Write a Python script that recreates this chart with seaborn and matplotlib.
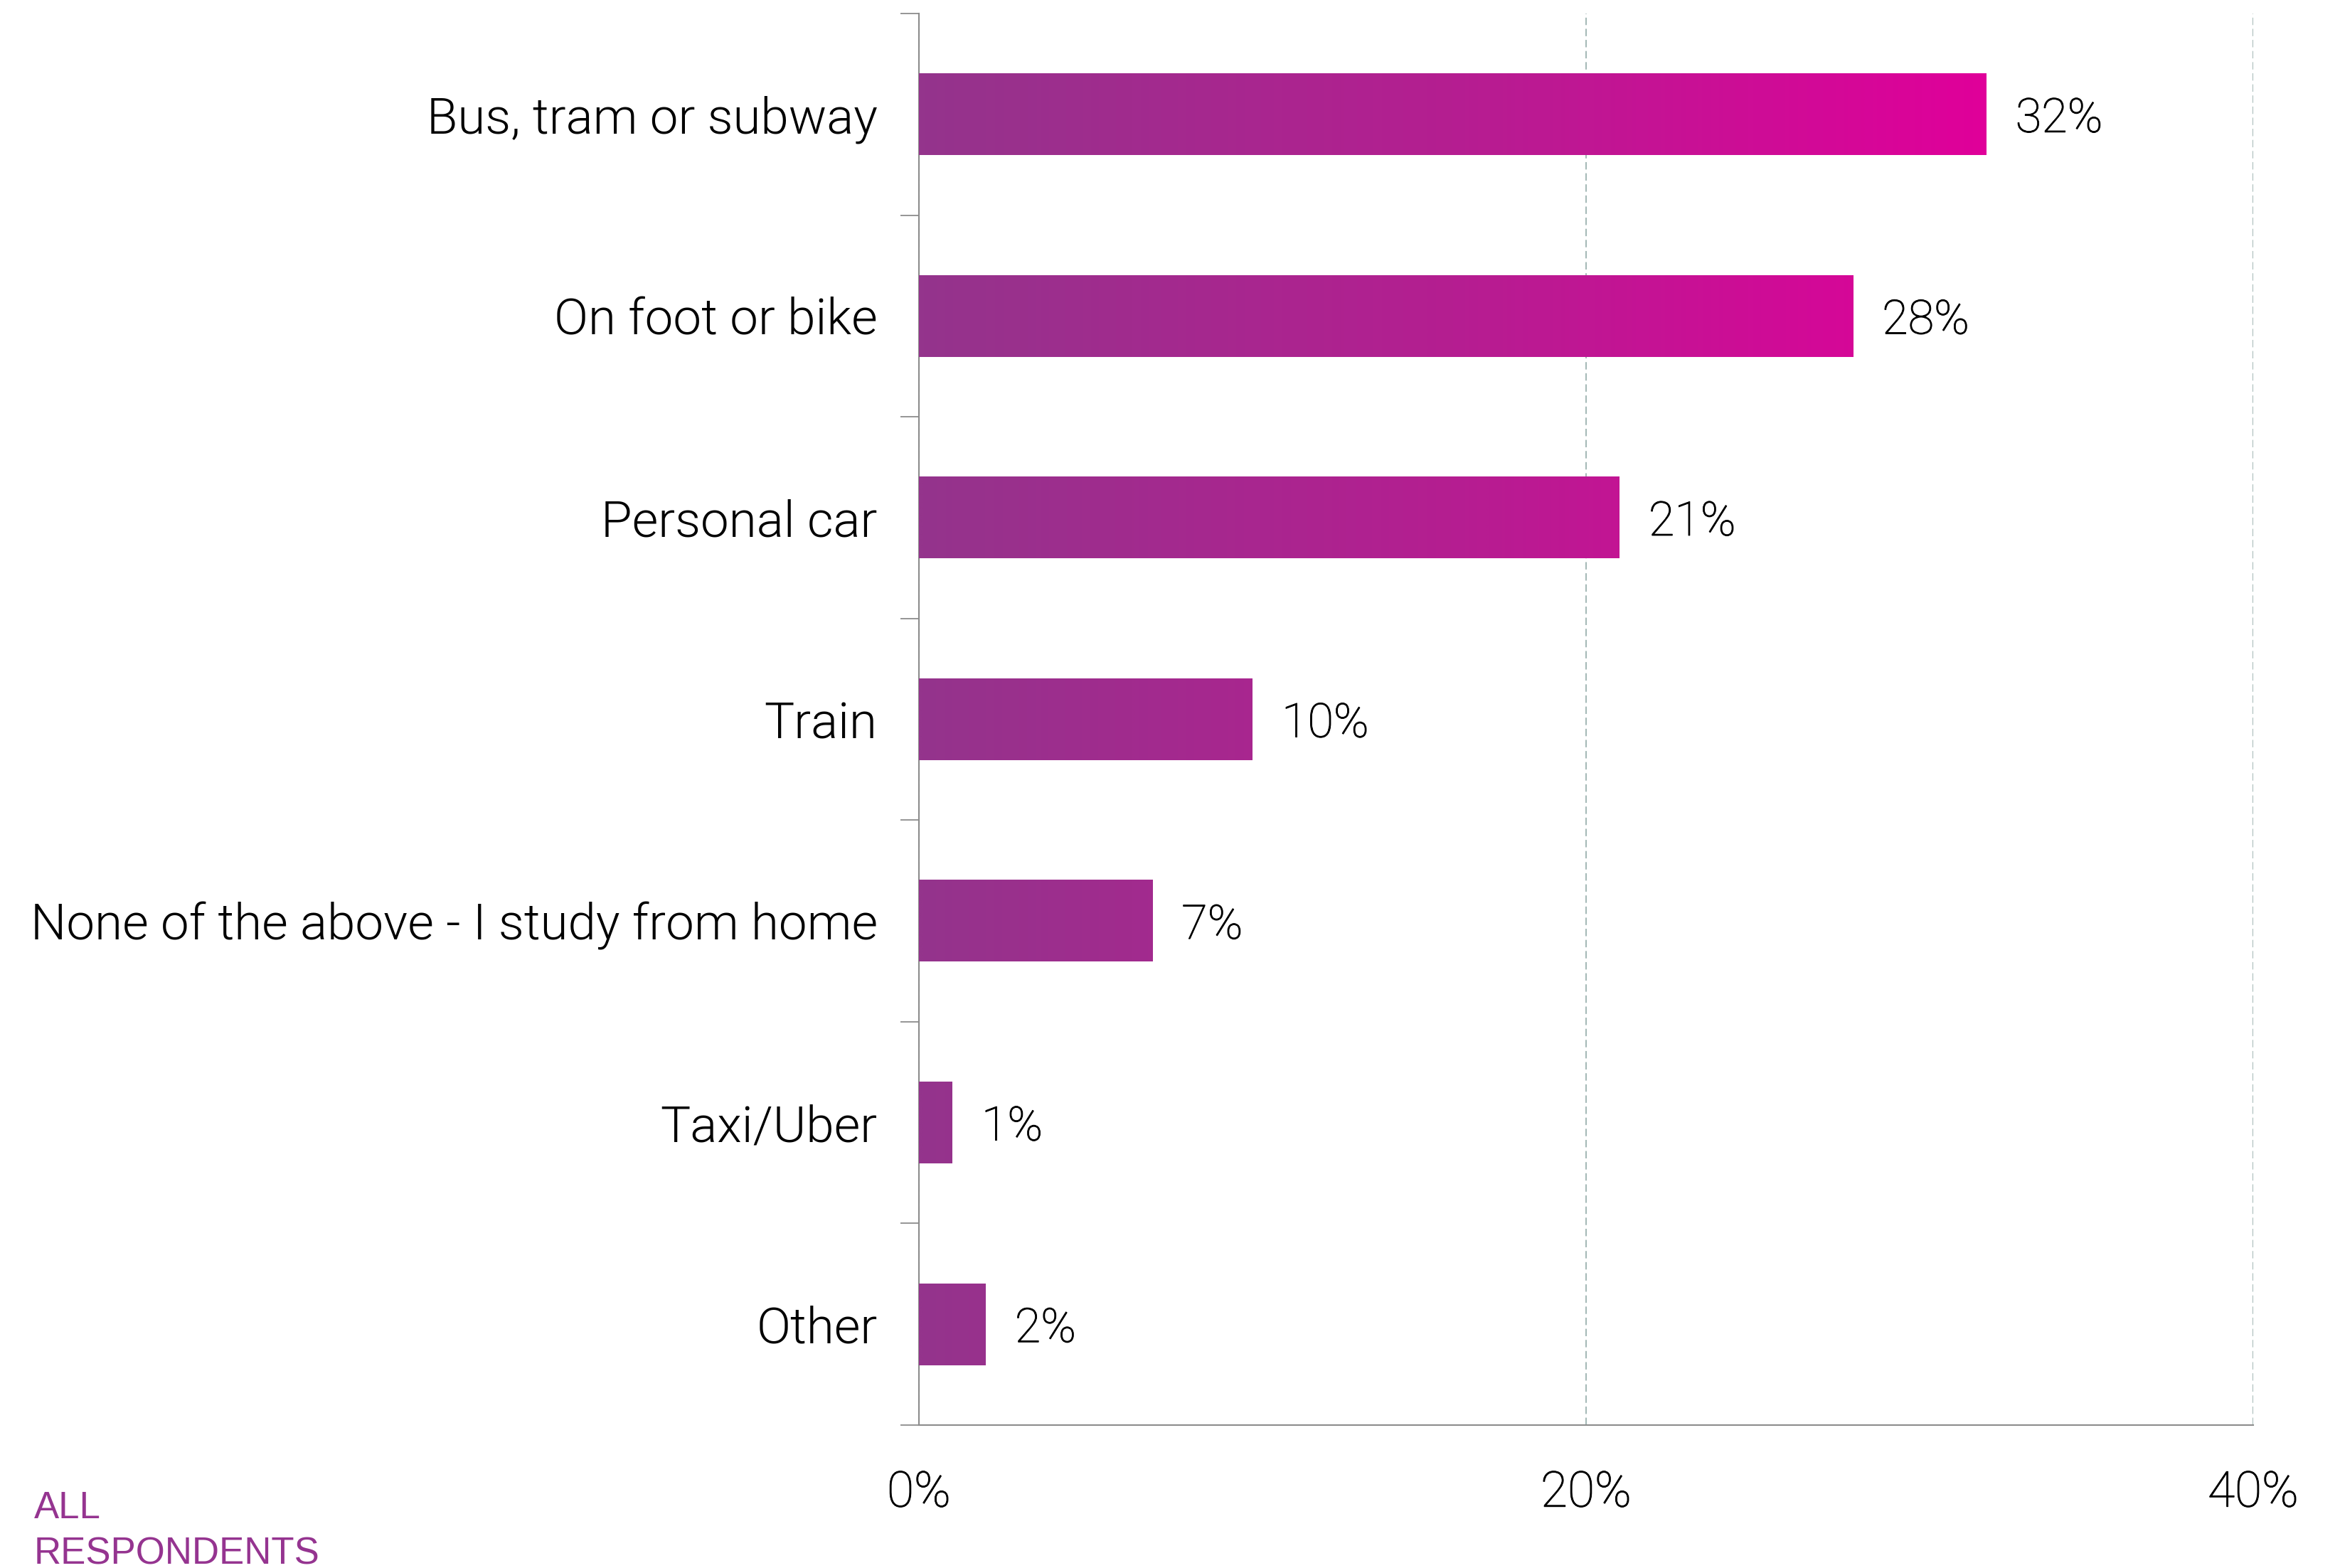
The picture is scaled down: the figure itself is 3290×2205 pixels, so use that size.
import numpy as np
import pandas as pd
import seaborn as sns
import matplotlib
matplotlib.use("Agg")
import matplotlib.pyplot as plt
import matplotlib.patheffects as pe
from matplotlib.colors import LinearSegmentedColormap
from matplotlib.ticker import FixedLocator

# ---- data ----
categories = [
    "Bus, tram or subway",
    "On foot or bike",
    "Personal car",
    "Train",
    "None of the above - I study from home",
    "Taxi/Uber",
    "Other",
]
values = [32, 28, 21, 10, 7, 1, 2]
value_labels = ["32%", "28%", "21%", "10%", "7%", "1%", "2%"]
x_ticks = [0, 20, 40]
x_tick_labels = ["0%", "20%", "40%"]
footnote_lines = ["ALL", "RESPONDENTS"]

# ---- style ----
sns.set_theme(style="white")
plt.rcParams["font.family"] = ["Roboto", "DejaVu Sans"]

W, H, DPI = 3290, 2205, 100
fig = plt.figure(figsize=(W / DPI, H / DPI), dpi=DPI)
fig.patch.set_facecolor("white")

left, right, top, bottom = 1292, 3168, 19, 2004
ax = fig.add_axes([left / W, 1 - bottom / H, (right - left) / W, (bottom - top) / H])

df = pd.DataFrame({"category": categories, "value": values})
sns.barplot(data=df, x="value", y="category", orient="h", width=0.405,
            color="#94348C", saturation=1, ax=ax, zorder=2)

cmap = LinearSegmentedColormap.from_list("grad", ["#94348C", "#B51E91", "#E0009A"])
vmax = max(values)
for patch in ax.patches:
    x0, y0 = patch.get_x(), patch.get_y()
    w, h = patch.get_width(), patch.get_height()
    xs = np.linspace(x0, x0 + w, 400).reshape(1, -1)
    ax.imshow(xs, extent=(x0, x0 + w, y0 + h, y0), cmap=cmap, vmin=0, vmax=vmax,
              aspect="auto", zorder=3, interpolation="bilinear")
    patch.set_edgecolor("none")

ax.set_xlim(0, 40)
ax.set_ylim(6.5, -0.5)

thin_fx = [pe.withStroke(linewidth=0.7, foreground="black")]

# value labels
for i, (v, lbl) in enumerate(zip(values, value_labels)):
    ax.annotate(lbl, xy=(v, i), xytext=(29.5, 0), textcoords="offset points",
                ha="left", va="center_baseline", fontsize=48, fontweight=100,
                color="black", path_effects=thin_fx)

# axes styling
spine_c = "#8C8C8C"
for s in ["top", "right"]:
    ax.spines[s].set_visible(False)
for s in ["left", "bottom"]:
    ax.spines[s].set_color(spine_c)
    ax.spines[s].set_linewidth(1.5)

ax.set_xticks(x_ticks)
ax.set_xticklabels(x_tick_labels, fontsize=50, fontweight=100, color="black")
for t in ax.get_xticklabels():
    t.set_path_effects(thin_fx)
ax.tick_params(axis="x", which="major", length=14.5, width=1.3, color=spine_c, pad=31)

ax.set_yticks(range(len(categories)))
ax.set_yticklabels(categories, fontsize=51, fontweight=300, color="#000000")
ax.tick_params(axis="y", which="major", length=0, pad=42)
ax.yaxis.set_minor_locator(FixedLocator(np.arange(-0.5, len(categories), 1.0)))
ax.tick_params(axis="y", which="minor", length=19, width=1.3, color=spine_c, left=True)

ax.set_xlabel("")
ax.set_ylabel("")

ax.set_axisbelow(True)
ax.xaxis.grid(True, color="#A6BAB8", linewidth=1.5, linestyle=(0, (5, 2.5)))
ax.yaxis.grid(False)

# footnote
fig.text(48 / W, 1 - 2135 / H, footnote_lines[0], ha="left", va="baseline",
         fontsize=38, family=["Liberation Sans", "DejaVu Sans"], color="#953490")
fig.text(48 / W, 1 - 2199 / H, footnote_lines[1], ha="left", va="baseline",
         fontsize=38, family=["Liberation Sans", "DejaVu Sans"], color="#953490")

fig.savefig("out.png", dpi=DPI, facecolor="white")
